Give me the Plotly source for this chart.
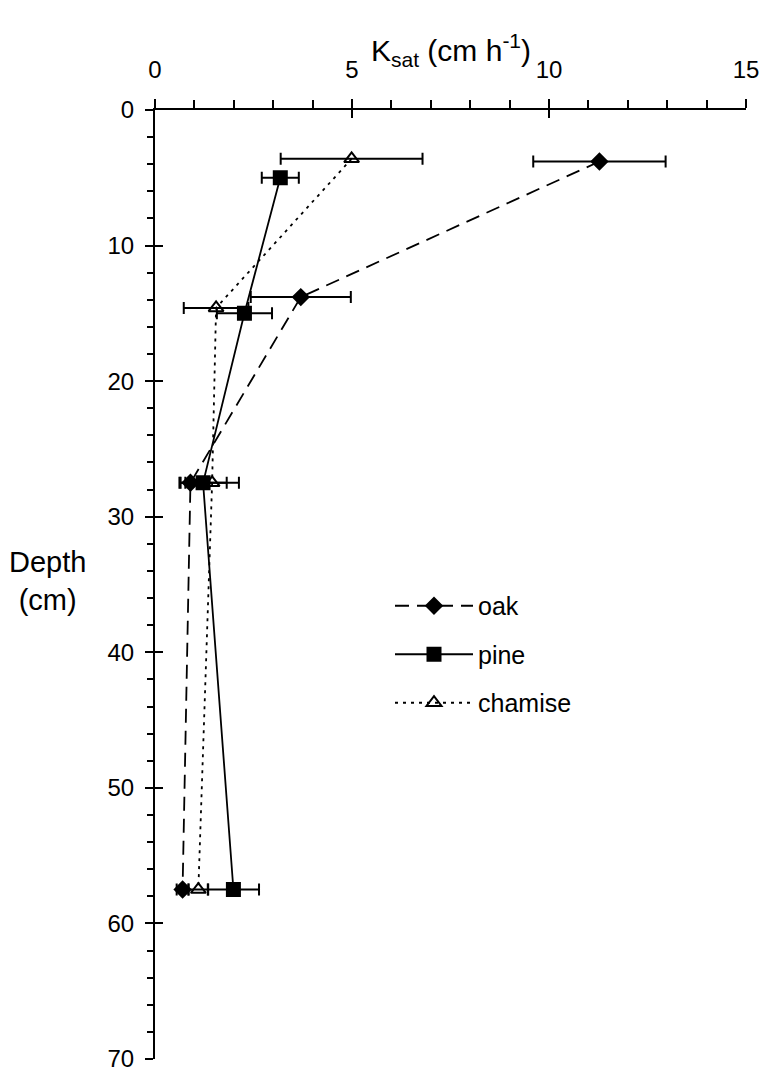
import plotly.graph_objects as go

# Data: saturated hydraulic conductivity (cm/h) vs depth (cm)
oak_depth = [3.8, 13.8, 27.5, 57.5]
oak_ksat = [11.28, 3.70, 0.90, 0.70]
oak_err = [1.68, 1.27, 0.25, 0.15]

pine_depth = [5.0, 15.0, 27.5, 57.5]
pine_ksat = [3.18, 2.27, 1.22, 1.99]
pine_err = [0.47, 0.70, 0.60, 0.65]

chamise_depth = [3.6, 14.6, 27.5, 57.5]
chamise_ksat = [4.99, 1.55, 1.45, 1.10]
chamise_err = [1.80, 0.82, 0.68, 0.25]

y_ticks = [0, 10, 20, 30, 40, 50, 60, 70]
x_ticks = [0, 5, 10, 15]

FONT = "Liberation Sans, Arial, sans-serif"

fig = go.Figure()

def add(name, xs, ys, errs, symbol, size, dash):
    fig.add_trace(go.Scatter(
        x=xs, y=ys, name=name, mode="lines+markers",
        line=dict(color="black", width=1.8, dash=dash),
        marker=dict(symbol=symbol, size=size, color="black",
                    line=dict(color="black", width=2)),
        error_x=dict(type="data", array=errs, visible=True, color="black",
                     thickness=2, width=6),
        legendgroup=name,
    ))

add("oak", oak_ksat, oak_depth, oak_err, "diamond", 12, "14px,8px")
add("pine", pine_ksat, pine_depth, pine_err, "square", 13, "solid")
add("chamise", chamise_ksat, chamise_depth, chamise_err, "triangle-up-open", 13, "3px,5px")

axis_common = dict(showgrid=False, zeroline=False, showline=True, linecolor="black",
                   linewidth=2, ticks="outside", tickcolor="black", tickwidth=2,
                   automargin=False, ticklabeloverflow="allow",
                   tickfont=dict(family=FONT, size=24, color="black"))

fig.update_layout(
    width=765, height=1071,
    margin=dict(l=155, r=19, t=110, b=12, autoexpand=False),
    plot_bgcolor="white", paper_bgcolor="white",
    font=dict(family=FONT, size=24, color="black"),
    xaxis=dict(range=[0, 15], side="top", tickmode="array", tickvals=x_ticks,
               ticktext=[str(v) for v in x_ticks], ticklen=9, anchor="y",
               ticklabelstandoff=11,
               minor=dict(dtick=1, ticks="outside", ticklen=8, tickwidth=2, tickcolor="black"),
               **axis_common),
    yaxis=dict(range=[70.001, 0], tickmode="array", tickvals=y_ticks,
               ticktext=[str(v) for v in y_ticks], ticklen=8, anchor="x",
               ticklabelstandoff=6,
               minor=dict(dtick=2, ticks="outside", ticklen=6, tickwidth=2, tickcolor="black"),
               **axis_common),
    xaxis2=dict(range=[0, 15], overlaying="x", side="top", tickmode="array", tickvals=x_ticks,
                ticks="inside", ticklen=8, tickwidth=2, tickcolor="black", showticklabels=False,
                showgrid=False, zeroline=False, showline=False, anchor="y"),
    yaxis2=dict(range=[70.001, 0], overlaying="y", side="left", tickmode="array", tickvals=y_ticks,
                ticks="inside", ticklen=8, tickwidth=2, tickcolor="black", showticklabels=False,
                showgrid=False, zeroline=False, showline=False, anchor="x"),
    legend=dict(x=(390 - 155) / 591, y=0.5016, xanchor="left", yanchor="top",
                bgcolor="rgba(0,0,0,0)", font=dict(family=FONT, size=25),
                itemwidth=78, tracegroupgap=13),
    showlegend=True,
)

# invisible trace to activate the overlay axes
fig.add_trace(go.Scatter(x=[None], y=[None], xaxis="x2", yaxis="y2",
                         showlegend=False, hoverinfo="skip"))

fig.add_annotation(text="K<sub>sat</sub> (cm h<sup>-1</sup>)", xref="paper", yref="paper",
                   x=0.5, y=1, yshift=60, showarrow=False, yanchor="middle",
                   font=dict(family=FONT, size=30))
fig.add_annotation(text="Depth<br>(cm)", xref="paper", yref="paper",
                   x=0, xshift=-108, y=1 - (581 - 110) / 949, showarrow=False,
                   xanchor="center", yanchor="middle", align="center",
                   font=dict(family=FONT, size=29))

fig.write_html("out.html", config={"displayModeBar": False},
               post_script="document.body.style.margin='0';document.body.style.padding='0';")
